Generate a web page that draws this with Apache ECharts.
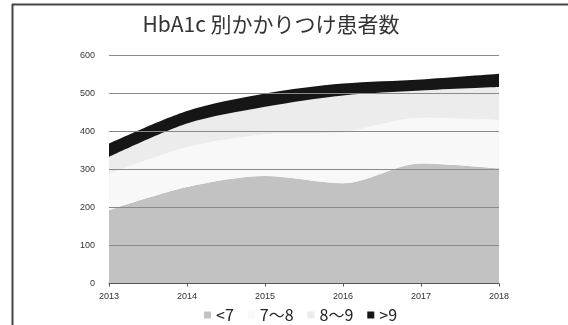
<!DOCTYPE html>
<html><head><meta charset="utf-8">
<script src="https://cdn.jsdelivr.net/npm/echarts@6/dist/echarts.min.js"></script>
<style>html,body{margin:0;padding:0;background:#fff}#c{width:568px;height:325px}</style>
</head><body><div id="c"></div>
<script>
const years = ['2013','2014','2015','2016','2017','2018'];
const lt7 = [193, 254, 283, 264, 316, 303];
const r78 = [95, 105, 110, 135, 120, 127];
const r89 = [45, 62, 72, 96, 72, 87];
const gt9 = [35, 33, 35, 31, 29, 35];
const seriesNames = ['<7', '7～8', '8～9', '>9'];
const seriesColors = ['#c2c2c2', '#f8f8f8', '#ececec', '#161616'];
const seriesData = [lt7, r78, r89, gt9];

const chart = echarts.init(document.getElementById('c'));
chart.setOption({
  animation: false,
  backgroundColor: '#fff',
  title: {
    text: 'HbA1c 別かかりつけ患者数',
    left: 266, top: 9, textAlign: 'center',
    textStyle: {fontFamily: 'Noto Sans CJK JP', fontSize: 21, fontWeight: 'normal', color: '#333'}
  },
  legend: {
    bottom: -3, left: 199,
    itemWidth: 7, itemHeight: 7, itemGap: 14, icon: 'rect',
    textStyle: {fontFamily: 'Noto Sans CJK JP', fontSize: 16, color: '#222'},
    data: seriesNames
  },
  grid: {left: 109, right: 69, top: 55.5, bottom: 41.5},
  xAxis: {
    type: 'category', data: years, boundaryGap: false, z: 10,
    axisLine: {lineStyle: {color: '#555', width: 1}},
    axisTick: {show: true, length: 3, lineStyle: {color: '#555'}},
    axisLabel: {fontFamily: 'Liberation Sans', fontSize: 9, color: '#333', margin: 9}
  },
  yAxis: {
    type: 'value', min: 0, max: 600, interval: 100, z: 10,
    axisLine: {show: false}, axisTick: {show: false},
    axisLabel: {fontFamily: 'Liberation Sans', fontSize: 9, color: '#333', margin: 14},
    splitLine: {lineStyle: {color: '#8a8a8a', width: 1}}
  },
  series: seriesData.map((d, i) => ({
    name: seriesNames[i], type: 'line', stack: 'total', data: d, z: 1,
    smooth: 0.3, showSymbol: false, symbol: 'none',
    lineStyle: {width: 0, color: seriesColors[i]},
    itemStyle: {color: seriesColors[i]},
    areaStyle: {color: seriesColors[i], opacity: 1}
  })),
  graphic: [
    {type: 'line', shape: {x1: 12, y1: 4.5, x2: 568, y2: 4.5}, style: {stroke: '#444', lineWidth: 2}, z: 100},
    {type: 'line', shape: {x1: 12.5, y1: 4, x2: 12.5, y2: 325}, style: {stroke: '#444', lineWidth: 2}, z: 100}
  ]
});
</script></body></html>
